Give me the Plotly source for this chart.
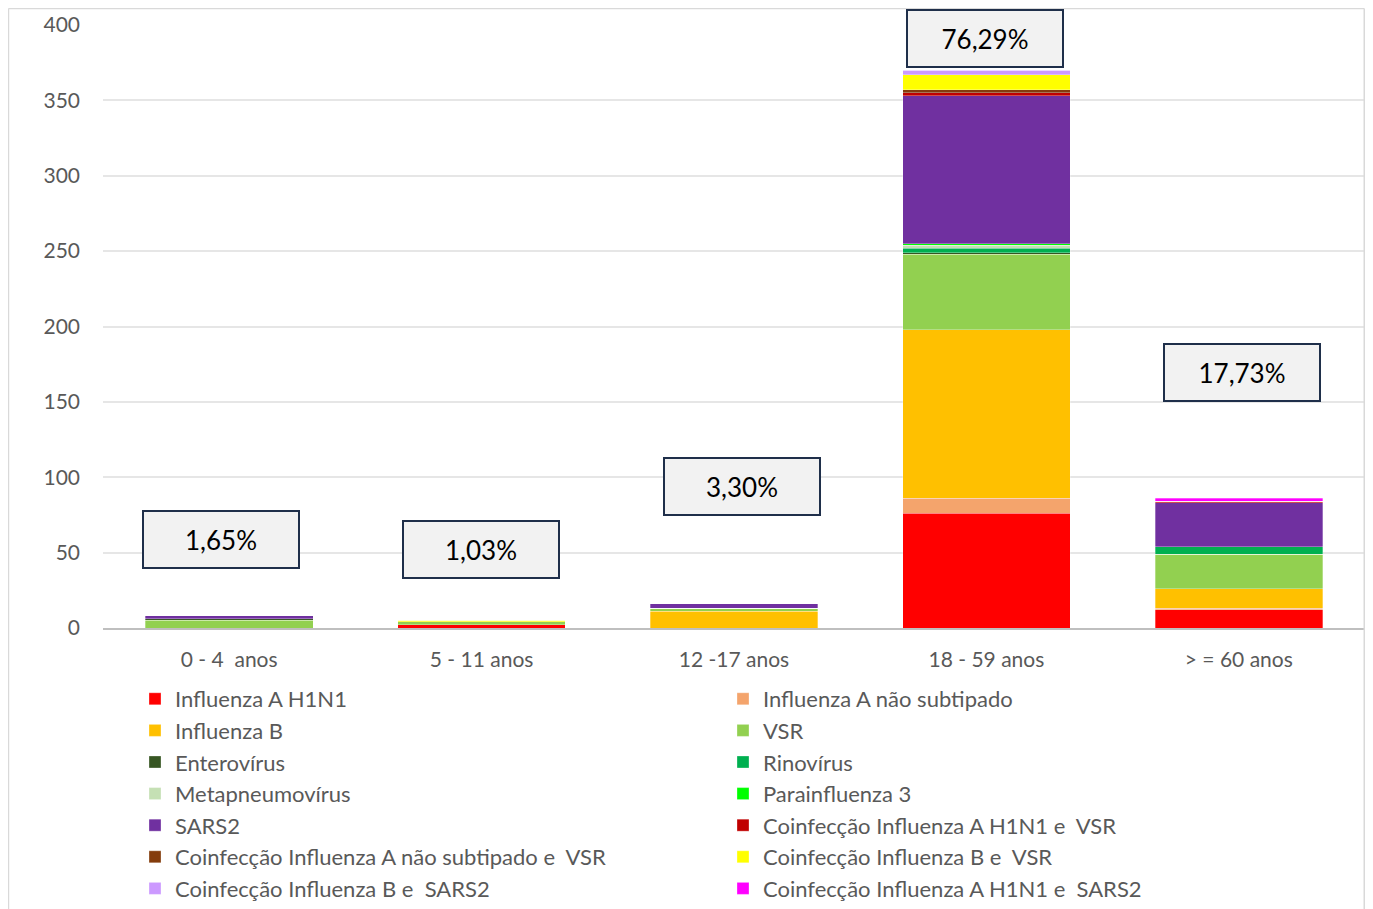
import plotly.graph_objects as go

categories = ["0 - 4  anos", "5 - 11 anos", "12 -17 anos", "18 - 59 anos", "> = 60 anos"]

series_names = [
    "Influenza A H1N1",
    "Influenza A não subtipado",
    "Influenza B",
    "VSR",
    "Enterovírus",
    "Rinovírus",
    "Metapneumovírus",
    "Parainfluenza 3",
    "SARS2",
    "Coinfecção Influenza A H1N1 e  VSR",
    "Coinfecção Influenza A não subtipado e  VSR",
    "Coinfecção Influenza B e  VSR",
    "Coinfecção Influenza B e  SARS2",
    "Coinfecção Influenza A H1N1 e  SARS2",
]

h1n1 = [0, 2, 0, 76, 12]
a_nao_sub = [0, 0, 0, 10, 1]
infl_b = [0, 0, 11, 112, 13]
vsr = [5, 2, 2, 50, 23]
entero = [1, 0, 0, 1, 0]
rino = [0, 0, 0, 3, 5]
metapneumo = [0, 0, 0, 2, 0]
parainfl3 = [0, 0, 0, 1, 0]
sars2 = [2, 0, 3, 98, 29]
co_h1n1_vsr = [0, 0, 0, 2, 1]
co_ans_vsr = [0, 0, 0, 2, 0]
co_b_vsr = [0, 1, 0, 10, 0]
co_b_sars2 = [0, 0, 0, 3, 0]
co_h1n1_sars2 = [0, 0, 0, 0, 2]

series_values = [h1n1, a_nao_sub, infl_b, vsr, entero, rino, metapneumo, parainfl3,
                 sars2, co_h1n1_vsr, co_ans_vsr, co_b_vsr, co_b_sars2, co_h1n1_sars2]

colors = ["#FF0000", "#F4A46C", "#FFC000", "#92D050", "#375623", "#00B050", "#C5E0B4",
          "#00FF00", "#7030A0", "#C00000", "#843C0C", "#FFFF00", "#CC99FF", "#FF00FF"]

pct_labels = ["1,65%", "1,03%", "3,30%", "76,29%", "17,73%"]
pct_label_y = [58.7, 52, 93.9, 391, 169.5]
pct_label_xshift = [-8, -1, 8, -1, 3]

font_family = "Lato, Calibri, Carlito, sans-serif"

fig = go.Figure()
for name, vals, col in zip(series_names, series_values, colors):
    fig.add_trace(go.Bar(
        x=categories, y=vals, name=name,
        marker=dict(color=col, line=dict(color="rgba(255,255,255,0.6)", width=0.5)),
    ))

for cat, txt, yv, xs in zip(categories, pct_labels, pct_label_y, pct_label_xshift):
    fig.add_annotation(
        x=cat, y=yv, xref="x", yref="y", text=txt, showarrow=False,
        xshift=xs,
        font=dict(family=font_family, size=26, color="#000000"),
        bgcolor="#F2F2F2", bordercolor="#1F2F4A", borderwidth=2,
        width=154, height=55, borderpad=0,
    )

# light outer chart border
border = dict(color="#D9D9D9", width=1.5)
fig.add_shape(type="line", xref="paper", yref="paper", x0=-0.0749, x1=-0.0749, y0=-0.5, y1=1.0274, line=border)
fig.add_shape(type="line", xref="paper", yref="paper", x0=-0.0749, x1=0.9994, y0=1.0274, y1=1.0274, line=border)
fig.add_shape(type="line", xref="paper", yref="paper", x0=0.9994, x1=0.9994, y0=-0.5, y1=1.0274, line=border)

fig.update_layout(
    barmode="stack",
    bargap=0.336,
    width=1357, height=901,
    margin=dict(l=95, r=0, t=17, b=281, autoexpand=False),
    paper_bgcolor="white", plot_bgcolor="white",
    font=dict(family=font_family, color="#595959"),
    showlegend=True,
    legend=dict(
        orientation="h", xref="container", yref="container",
        x=0.0936, xanchor="left", y=0.2564, yanchor="top",
        entrywidth=543, entrywidthmode="pixels",
        font=dict(family=font_family, size=22, color="#595959"),
        traceorder="normal", itemwidth=30,
    ),
    xaxis=dict(
        showline=True, linecolor="#BFBFBF", linewidth=1.5,
        tickfont=dict(family=font_family, size=21, color="#595959"),
        ticks="", showgrid=False, ticklabelstandoff=12,
    ),
    yaxis=dict(
        range=[0, 400], dtick=50, showgrid=True, gridcolor="#E6E6E6", gridwidth=1.5,
        tickfont=dict(family=font_family, size=21, color="#595959"),
        zeroline=False, ticks="", ticklabelstandoff=22,
    ),
)

fig.write_html("out.html")
